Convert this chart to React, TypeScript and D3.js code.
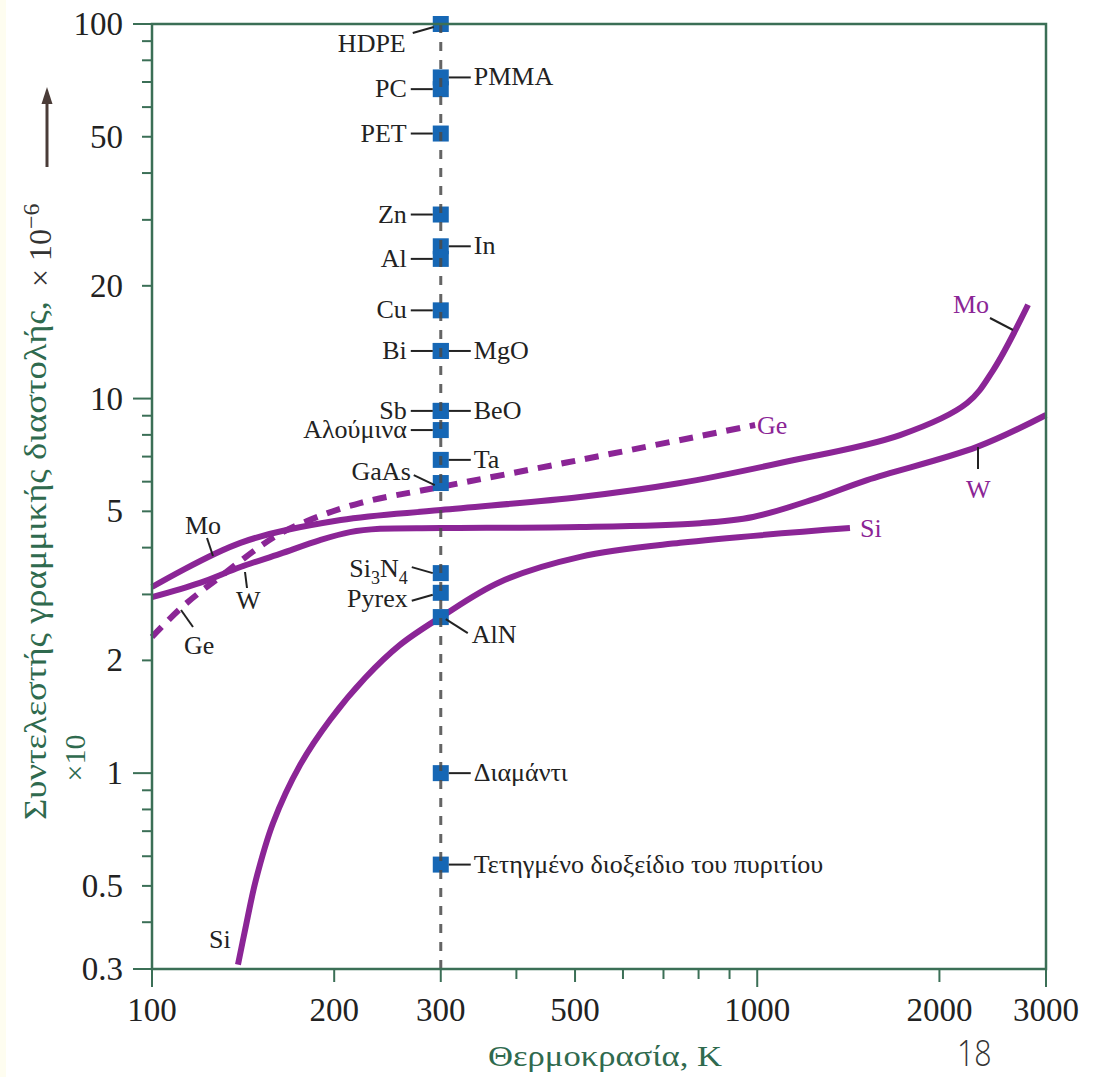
import React from "react";
import * as d3 from "d3";

// ---------- data ----------
const moT = [100, 140, 205, 300, 510, 746, 1091, 1722, 2222, 2453, 2802];
const moV = [3.14, 4.12, 4.74, 5.04, 5.46, 5.95, 6.73, 7.99, 9.73, 11.9, 17.8];

const wT = [100, 120, 140, 162.7, 189.5, 212.4, 238.1, 300, 510, 805, 984, 1237, 1519, 2308, 3000];
const wV = [2.95, 3.22, 3.55, 3.85, 4.19, 4.4, 4.49, 4.51, 4.54, 4.65, 4.83, 5.38, 6.06, 7.43, 9.04];

const geT = [100, 112.5, 129.5, 158.5, 180.4, 220.6, 300, 510, 992];
const geV = [2.31, 2.79, 3.34, 4.25, 4.71, 5.26, 5.81, 6.86, 8.5];

const siT = [138.7, 142.5, 148.5, 158.5, 175.7, 196.8, 224.9, 256.9, 300, 376, 510, 746, 1423];
const siV = [0.308, 0.3815, 0.519, 0.736, 1.052, 1.387, 1.795, 2.2, 2.61, 3.24, 3.78, 4.12, 4.51];

const materialT = 300;
const materialNames = [
  "HDPE", "PMMA", "PC", "PET", "Zn", "In", "Al", "Cu", "Bi", "MgO",
  "Sb", "BeO", "Αλούμινα", "Ta", "GaAs", "Si3N4", "Pyrex", "AlN",
  "Διαμάντι", "Τετηγμένο διοξείδιο του πυριτίου",
];
const materialValues = [
  100, 72, 67, 51, 31, 25.5, 23.6, 17.2, 13.4, 13.4,
  9.27, 9.27, 8.24, 6.86, 5.95, 3.42, 3.03, 2.61, 1.0, 0.57,
];

const yTickLabels = [100, 50, 20, 10, 5, 2, 1, 0.5, 0.3];
const xTickLabels = [100, 200, 300, 500, 1000, 2000, 3000];
const xMinorTicks = [400, 600, 700, 800, 900];

// ---------- layout ----------
const L = 152, R = 1046, T = 24, B = 969;
const x = d3.scaleLog().domain([100, 3000]).range([L, R]);
const y = d3.scaleLog().domain([0.3, 100]).range([B, T]);

const AXIS = "#3b6f56";
const GREEN_TXT = "#2f6a4e";
const PURPLE = "#8b2596";
const BLUE = "#1667b5";
const SERIF = "'Liberation Serif', 'Times New Roman', serif";

// label layout relative to marker centre: [textX, textY, anchor, l1x, l1y, l2x, l2y]
type Lay = [number, number, "start" | "end", number, number, number, number];
const leftH: Lay = [-34, 8, "end", -8, 0, -30, 0];
const rightH: Lay = [33, 8, "start", 8, 0, 30, 0];
const labelLayout: Record<string, Lay> = {
  HDPE: [-35, 28, "end", -7, 3, -28, 9],
  GaAs: [-30, -3, "end", -6, 2, -27, -8],
  Si3N4: [-33, 4, "end", -8, 0, -29, -6],
  Pyrex: [-33, 14, "end", -8, 2, -29, 8],
  AlN: [31, 26, "start", 5, 2, 27, 16],
};
const rightSide = new Set(["PMMA", "In", "MgO", "BeO", "Ta", "Διαμάντι", "Τετηγμένο διοξείδιο του πυριτίου"]);

function zip(a: number[], b: number[]): [number, number][] {
  return a.map((v, i) => [v, b[i]]);
}

export default function App() {
  const line = d3
    .line<[number, number]>()
    .x((d) => x(d[0]))
    .y((d) => y(d[1]))
    .curve(d3.curveCatmullRom.alpha(0.5));

  // y ticks
  const yTicks: { v: number; long: boolean }[] = [];
  [0.1, 1, 10].forEach((dec) => {
    for (let k = 1; k <= 9; k++) {
      const v = +(k * dec).toPrecision(3);
      if (v >= 0.3 && v <= 100) yTicks.push({ v, long: k === 1 || v === 0.3 });
    }
  });
  yTicks.push({ v: 100, long: true });

  const cx = x(materialT);

  return (
    <svg
      width={1111}
      height={1077}
      style={{ position: "absolute", left: 0, top: 0, background: "#fff" }}
      fontFamily={SERIF}
    >
      <rect x={0} y={0} width={1111} height={1077} fill="#ffffff" />
      <rect x={0} y={0} width={6} height={1077} fill="#fefdf0" />

      {/* curves */}
      <path d={line(zip(siT, siV)) || ""} fill="none" stroke={PURPLE} strokeWidth={6} />
      <path d={line(zip(wT, wV)) || ""} fill="none" stroke={PURPLE} strokeWidth={6} />
      <path d={line(zip(moT, moV)) || ""} fill="none" stroke={PURPLE} strokeWidth={6} />
      <path
        d={line(zip(geT, geV)) || ""}
        fill="none"
        stroke={PURPLE}
        strokeWidth={6}
        strokeDasharray="14 10"
      />

      {/* markers */}
      {materialNames.map((n, i) => (
        <rect
          key={"sq" + n}
          x={cx - 8}
          y={y(materialValues[i]) - 8}
          width={16}
          height={16}
          fill={BLUE}
        />
      ))}
      <line x1={cx} x2={cx} y1={T} y2={B} stroke="#4a4a4a" strokeWidth={3} strokeDasharray="9 9" opacity={0.85} />

      {/* marker labels */}
      {materialNames.map((n, i) => {
        const cy = y(materialValues[i]);
        const lay = labelLayout[n] || (rightSide.has(n) ? rightH : leftH);
        const [tx, ty, anchor, a1, b1, a2, b2] = lay;
        return (
          <g key={"lb" + n}>
            <line x1={cx + a1} y1={cy + b1} x2={cx + a2} y2={cy + b2} stroke="#222" strokeWidth={2} />
            <text x={cx + tx} y={cy + ty} textAnchor={anchor} fontSize={26} fill="#222">
              {n === "Si3N4" ? (
                <>
                  Si<tspan fontSize={18} dy={7}>3</tspan>
                  <tspan dy={-7}>N</tspan>
                  <tspan fontSize={18} dy={7}>4</tspan>
                </>
              ) : (
                n
              )}
            </text>
          </g>
        );
      })}

      {/* curve labels */}
      <text x={757} y={434} fontSize={26} fill={PURPLE}>Ge</text>
      <text x={860} y={537} fontSize={26} fill={PURPLE}>Si</text>
      <text x={953} y={313} fontSize={26} fill={PURPLE}>Mo</text>
      <line x1={990} y1={318} x2={1013} y2={330} stroke="#222" strokeWidth={2} />
      <text x={966} y={498} fontSize={26} fill={PURPLE}>W</text>
      <line x1={978} y1={447} x2={978} y2={469} stroke="#222" strokeWidth={2} />

      <text x={185} y={534} fontSize={26} fill="#222">Mo</text>
      <line x1={207} y1={538} x2={213} y2={556} stroke="#222" strokeWidth={2} />
      <text x={236} y={609} fontSize={26} fill="#222">W</text>
      <line x1={245} y1={572} x2={247} y2={588} stroke="#222" strokeWidth={2} />
      <text x={184} y={654} fontSize={26} fill="#222">Ge</text>
      <line x1={181} y1={610} x2={193} y2={627} stroke="#222" strokeWidth={2} />
      <text x={209} y={948} fontSize={26} fill="#222">Si</text>

      {/* frame */}
      <rect x={L} y={T} width={R - L} height={B - T} fill="none" stroke={AXIS} strokeWidth={2.5} />

      {/* y ticks */}
      {yTicks.map((t, i) => (
        <line key={"yt" + i} x1={L - (t.long ? 19 : 10)} x2={L} y1={y(t.v)} y2={y(t.v)} stroke={AXIS} strokeWidth={2} />
      ))}
      {yTickLabels.map((v) => (
        <text key={"yl" + v} x={123} y={y(v) + 11} textAnchor="end" fontSize={33} fill="#222">
          {v}
        </text>
      ))}

      {/* x ticks */}
      {xTickLabels.map((v) => (
        <line
          key={"xt" + v}
          x1={x(v)}
          x2={x(v)}
          y1={B}
          y2={B + (v === 100 || v === 1000 || v === 3000 ? 18 : 13)}
          stroke={AXIS}
          strokeWidth={2}
        />
      ))}
      {xMinorTicks.map((v) => (
        <line key={"xm" + v} x1={x(v)} x2={x(v)} y1={B} y2={B + 10} stroke={AXIS} strokeWidth={2} />
      ))}
      {xTickLabels.map((v) => (
        <text key={"xl" + v} x={x(v)} y={1021} textAnchor="middle" fontSize={33} fill="#222">
          {v}
        </text>
      ))}

      {/* axis titles */}
      <text x={488} y={1066} fontSize={30} fill={GREEN_TXT} textLength={234} lengthAdjust="spacingAndGlyphs">
        Θερμοκρασία, K
      </text>
      <text
        transform="translate(46,820) rotate(-90)"
        fontSize={31}
        fill={GREEN_TXT}
        textLength={519}
        lengthAdjust="spacingAndGlyphs"
      >
        Συντελεστής γραμμικής διαστολής,
      </text>
      <text transform="translate(51,287) rotate(-90)" fontSize={32} fill="#333">
        × 10<tspan fontSize={24} dy={-12}>−6</tspan>
      </text>
      <text transform="translate(85,758) rotate(-90)" textAnchor="middle" fontSize={30} fill={GREEN_TXT}>
        ×10
      </text>

      {/* arrow */}
      <line x1={47} y1={167} x2={47} y2={100} stroke="#4a3c38" strokeWidth={3} />
      <path d="M47,87 L41.5,104 L52.5,104 Z" fill="#4a3c38" />

      {/* page number */}
      <text
        transform="translate(957,1066) scale(0.82,1)"
        fontSize={37}
        fontFamily="'Open Sans', 'DejaVu Sans', sans-serif"
        fontWeight={300}
        fill="#333"
      >
        18
      </text>
    </svg>
  );
}
